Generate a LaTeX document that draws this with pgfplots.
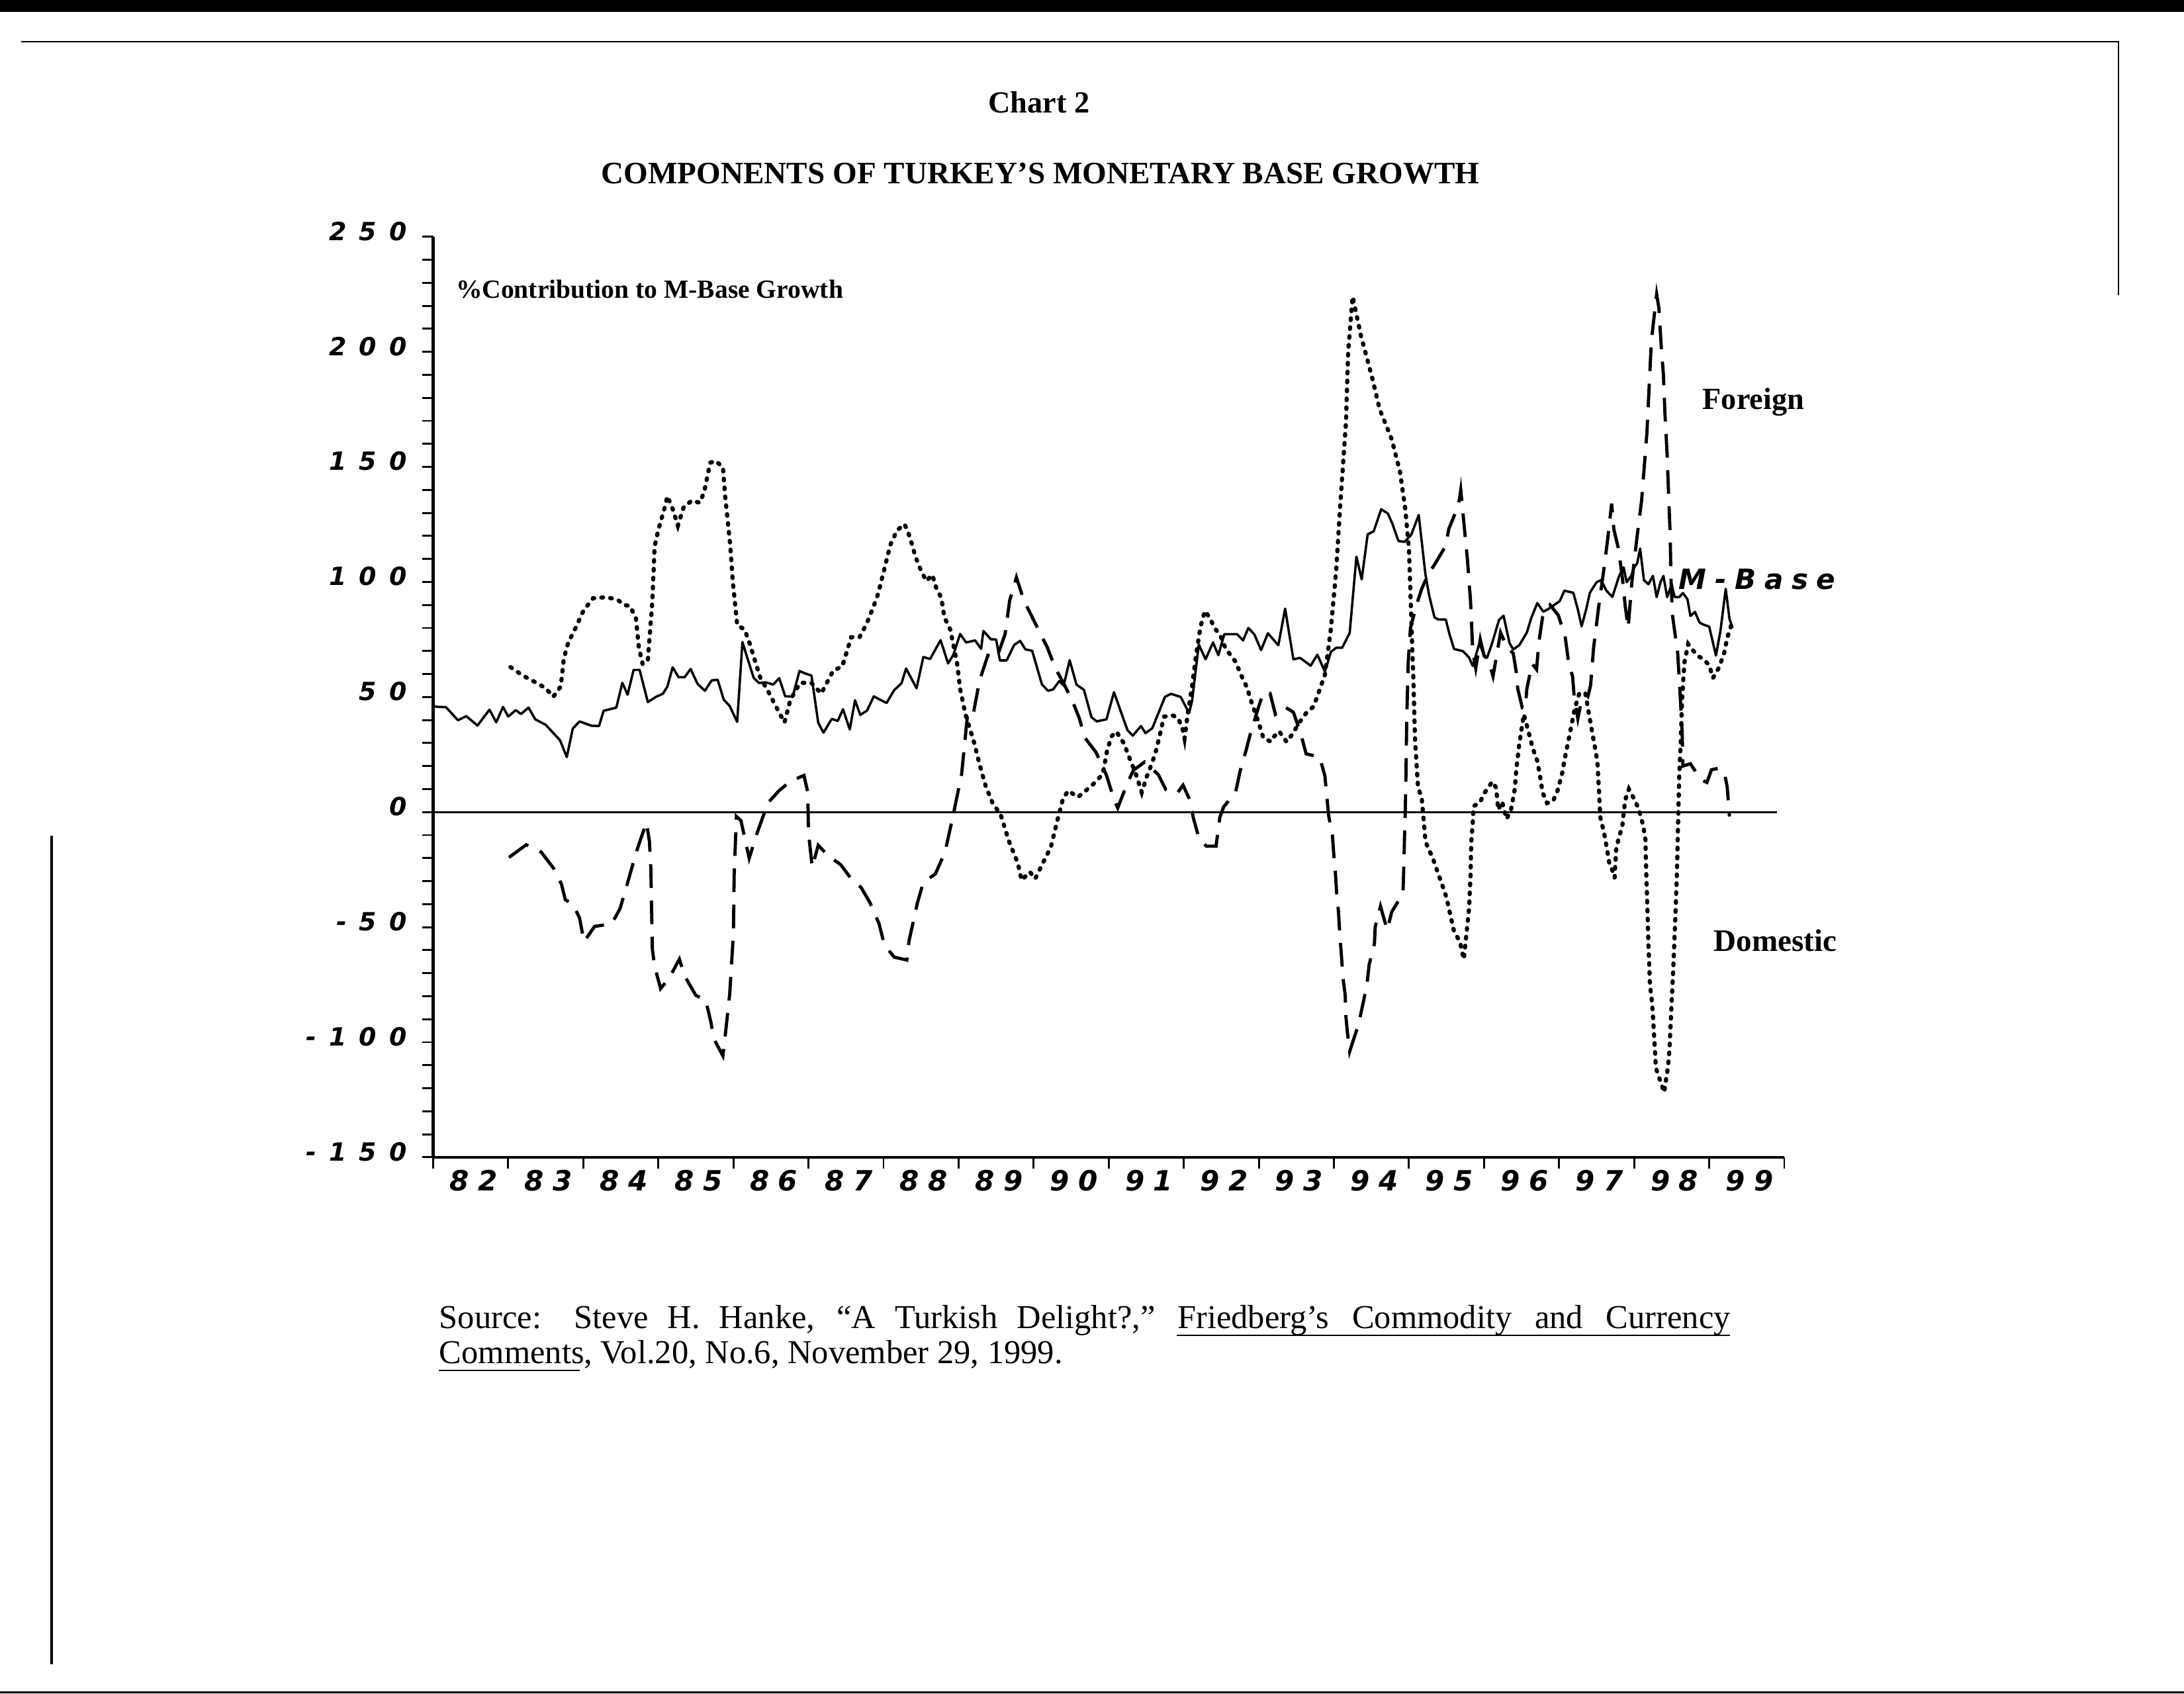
\documentclass[border=0pt]{standalone}
\usepackage{fontspec}
\setmainfont{Liberation Serif}
\newfontfamily\ytickfont[LetterSpace=50]{DejaVu Sans}
\newfontfamily\xtickfont[LetterSpace=32]{DejaVu Sans}
\newfontfamily\mbasefont[LetterSpace=30]{DejaVu Sans}
\usepackage{pgfplots}
\pgfplotsset{compat=1.18}

\begin{document}
\begin{tikzpicture}[x=0.5pt,y=0.5pt]
\path[use as bounding box] (0,0) rectangle (1568,1216);
% edges of the scanned page
\fill[black] (0,1207.5) rectangle (1568,1216);
\fill[black] (0,0) rectangle (1568,1.5);
\draw[line width=0.6pt] (15,1186) -- (1521,1186) -- (1521,1004);
\draw[line width=0.8pt] (37,616) -- (37,21);

\begin{axis}[
    at={(155.5pt,192.5pt)}, anchor=south west,
    scale only axis, width=485pt, height=330.5pt,
    xmin=1982, xmax=2000, ymin=-150, ymax=250,
    axis lines=left,
    axis line style={-, line width=1pt},
    tick align=outside,
    major tick length=4pt, minor tick length=4pt,
    every tick/.style={black, line width=0.7pt},
    ytick={-150,-100,...,250},
    minor ytick={-140,-130,...,240},
    yticklabels={-150,-100,-50,0,50,100,150,200,250},
    yticklabel style={font=\ytickfont\bfseries\itshape\fontsize{9}{9}\selectfont, yshift=2pt, xshift=-2pt},
    xtick={1982.5,1983.5,...,1999.5},
    xticklabels={82,83,84,85,86,87,88,89,90,91,92,93,94,95,96,97,98,99},
    major x tick style={draw=none},
    minor xtick={1982,1983,...,2000},
    xticklabel style={font=\xtickfont\bfseries\itshape\fontsize{10}{10}\selectfont, yshift=3pt, xshift=1pt},
    clip=false,
]
% zero line
\addplot[black, line width=0.8pt] coordinates {(1982,0) (1999.9,0)};

% M-Base (solid)
\addplot[black, line width=0.85pt, line join=round] coordinates {
(1982.00,46) (1982.07,45.7) (1982.17,45.6) (1982.33,39.9) (1982.44,41.7) (1982.59,37.6)
(1982.75,44.5) (1982.84,39.0) (1982.93,45.7) (1983.00,41.5) (1983.10,44.3) (1983.17,42.6)
(1983.27,45.4) (1983.36,40.3) (1983.50,37.9) (1983.69,31.2) (1983.78,23.9) (1983.86,36.3)
(1983.95,39.4) (1984.11,37.5) (1984.21,37.4) (1984.27,44.0) (1984.44,45.4) (1984.52,56.2)
(1984.59,51.0) (1984.67,61.8) (1984.75,61.8) (1984.86,47.8) (1984.97,50.1) (1985.06,51.4)
(1985.12,54.5) (1985.19,62.9) (1985.27,58.6) (1985.35,58.6) (1985.43,62.2) (1985.52,55.8)
(1985.62,52.7) (1985.71,57.2) (1985.79,57.5) (1985.87,48.9) (1985.95,46.1) (1986.05,39.2)
(1986.12,73.9) (1986.19,66.5) (1986.27,58.3) (1986.34,56.1) (1986.43,56.4) (1986.53,55.4)
(1986.61,58.2) (1986.69,50.3) (1986.79,50.2) (1986.88,61.3) (1986.96,60.2) (1987.04,59.3)
(1987.13,38.8) (1987.20,34.5) (1987.31,40.5) (1987.39,39.6) (1987.46,44.7) (1987.55,35.9)
(1987.62,48.6) (1987.69,42.2) (1987.78,44.1) (1987.87,50.3) (1987.95,48.9) (1988.04,47.4)
(1988.14,52.9) (1988.24,56.0) (1988.30,62.4) (1988.44,53.8) (1988.53,67.4) (1988.62,66.5)
(1988.76,74.7) (1988.86,64.6) (1988.93,68.3) (1989.02,77.4) (1989.10,73.7) (1989.22,74.6)
(1989.30,70.9) (1989.33,78.7) (1989.43,75.1) (1989.50,75.0) (1989.55,65.9) (1989.64,65.9)
(1989.74,72.6) (1989.82,74.4) (1989.89,70.7) (1989.98,70.1) (1990.11,55.5) (1990.19,52.7)
(1990.26,53.3) (1990.34,56.9) (1990.40,55.0) (1990.48,66.0) (1990.57,55.4) (1990.67,53.1)
(1990.77,41.2) (1990.84,39.4) (1990.97,40.3) (1991.07,52.1) (1991.17,42.9) (1991.25,35.6)
(1991.32,33.2) (1991.43,37.4) (1991.49,34.3) (1991.58,36.4) (1991.75,50.1) (1991.83,51.4)
(1991.96,50.0) (1992.07,43.0) (1992.11,48.2) (1992.20,72.8) (1992.29,66.4) (1992.39,73.7)
(1992.46,68.2) (1992.54,77.3) (1992.71,77.3) (1992.79,74.6) (1992.86,80.0) (1992.94,77.2)
(1993.03,70.4) (1993.12,77.7) (1993.26,72.5) (1993.35,88.4) (1993.46,66.4) (1993.55,67.0)
(1993.69,63.6) (1993.78,68.4) (1993.88,61.0) (1993.96,69.6) (1994.03,71.4) (1994.11,71.4)
(1994.21,77.8) (1994.30,111) (1994.37,101.1) (1994.45,120.7) (1994.53,122) (1994.63,131.6)
(1994.72,129.7) (1994.78,125.2) (1994.86,117.8) (1994.94,117.4) (1995.03,120.5) (1995.13,129.1)
(1995.22,103.1) (1995.27,94) (1995.34,84.6) (1995.39,83.7) (1995.49,83.7) (1995.54,77.3)
(1995.60,70.9) (1995.72,69.9) (1995.80,67.2) (1995.85,63.5) (1995.94,73.5) (1996.00,68)
(1996.04,67.1) (1996.10,72.6) (1996.20,83.5) (1996.26,85.3) (1996.34,73.4) (1996.39,70.7)
(1996.47,72.5) (1996.57,78) (1996.63,84.4) (1996.71,90.8) (1996.79,87.1) (1996.85,88.1)
(1996.93,89.9) (1997.01,91.7) (1997.07,96.2) (1997.19,95.3) (1997.25,88) (1997.30,80.7)
(1997.36,88) (1997.41,95.3) (1997.50,99.9) (1997.56,100.8) (1997.63,96.2) (1997.71,93.5)
(1997.80,102.6) (1997.86,106.3) (1997.90,99.9) (1997.96,102.6) (1998.00,106.3) (1998.04,108.1)
(1998.08,114.5) (1998.13,100.8) (1998.19,99) (1998.25,102.6) (1998.30,93.4) (1998.35,99.8)
(1998.39,102.6) (1998.44,93.4) (1998.50,98.9) (1998.54,93.4) (1998.60,93.4) (1998.65,95.2)
(1998.71,92.5) (1998.75,85.2) (1998.81,87) (1998.87,82.4) (1998.92,81.5) (1999.00,80.6)
(1999.09,68) (1999.15,78.8) (1999.22,97) (1999.27,84) (1999.31,80)
};

% Domestic (dotted)
\addplot[black, line width=1.5pt, line cap=round, dash pattern=on 0.6pt off 2.6pt] coordinates {
(1983.03,63) (1983.19,59.4) (1983.35,56.6) (1983.50,53.8) (1983.60,50.1) (1983.70,54.6)
(1983.74,66.5) (1983.80,73.8) (1983.90,80.2) (1984.00,87.4) (1984.13,92.9) (1984.31,93.4)
(1984.46,92.2) (1984.54,90.0) (1984.62,89.6) (1984.70,84.4) (1984.74,71.6) (1984.79,64.3)
(1984.86,66.1) (1984.92,91.7) (1984.95,115.5) (1985.00,122.7) (1985.08,131.8) (1985.12,137.3)
(1985.19,131.8) (1985.26,124.5) (1985.34,132.7) (1985.45,135.4) (1985.55,134.4) (1985.61,139)
(1985.69,151.8) (1985.76,152.6) (1985.86,149.9) (1985.89,137.1) (1985.92,127.9) (1985.96,115.1)
(1985.99,100.5) (1986.02,91.3) (1986.05,81.2) (1986.15,79.3) (1986.22,72.9) (1986.29,65.5)
(1986.36,58.2) (1986.46,52.7) (1986.56,46.3) (1986.68,38.9) (1986.76,48.9) (1986.89,56.2)
(1987.04,56.1) (1987.17,51.5) (1987.33,61.5) (1987.45,63.3) (1987.57,76) (1987.68,76)
(1987.77,81.5) (1987.87,89.6) (1987.93,95.1) (1988.02,106.9) (1988.09,116.1) (1988.18,122.4)
(1988.28,125.1) (1988.35,119.6) (1988.43,110.5) (1988.50,104.9) (1988.57,100.4) (1988.65,103.1)
(1988.70,97.6) (1988.77,93) (1988.81,84.7) (1988.89,79.2) (1988.98,64.6) (1989.02,53.6)
(1989.09,42.6) (1989.21,29.8) (1989.28,20.6) (1989.36,11.4) (1989.45,4.1) (1989.56,-1.1)
(1989.67,-12.6) (1989.79,-22.3) (1989.84,-29.6) (1989.95,-26) (1990.02,-29) (1990.10,-23.6)
(1990.23,-15.1) (1990.32,-3.1) (1990.39,5.7) (1990.46,9.3) (1990.59,6.5) (1990.69,9.2)
(1990.79,12) (1990.92,16.5) (1990.98,27) (1991.04,33) (1991.10,35) (1991.20,30)
(1991.30,21.5) (1991.36,16.7) (1991.44,8.6) (1991.51,15.7) (1991.58,21.5) (1991.63,26.7)
(1991.67,32) (1991.71,37.7) (1991.74,41.5) (1991.85,42) (1991.92,41) (1991.98,36.7)
(1992.01,32) (1992.05,42) (1992.11,54.6) (1992.16,67.3) (1992.22,80.1) (1992.28,87.4)
(1992.34,84.7) (1992.41,80.1) (1992.49,76.4) (1992.56,70.9) (1992.69,65.3) (1992.76,59.8)
(1992.84,54.3) (1992.91,46.9) (1992.99,39.6) (1993.06,32.2) (1993.16,30.6) (1993.19,32.4)
(1993.27,35.1) (1993.37,30.5) (1993.45,34) (1993.53,38.5) (1993.63,43) (1993.73,45.9)
(1993.88,59.6) (1993.96,79.7) (1994.03,105) (1994.09,136) (1994.16,169) (1994.19,200)
(1994.25,224) (1994.36,207) (1994.50,190) (1994.61,175) (1994.77,162) (1994.88,148)
(1994.95,132) (1995.00,114) (1995.02,95) (1995.04,75) (1995.06,57) (1995.08,32)
(1995.12,11) (1995.17,6) (1995.20,-5) (1995.22,-12.8) (1995.25,-15.2) (1995.32,-20.2)
(1995.37,-25) (1995.45,-32.3) (1995.50,-37.2) (1995.55,-44.5) (1995.60,-51.7) (1995.68,-56.5)
(1995.73,-64) (1995.77,-51.7) (1995.80,-42) (1995.82,-28) (1995.83,-13.1) (1995.85,-4.6)
(1995.86,2.6) (1995.94,3.9) (1996.01,8.5) (1996.11,13.2) (1996.16,10.7) (1996.19,1)
(1996.24,4.6) (1996.30,-3) (1996.36,1) (1996.41,10) (1996.43,18.6) (1996.47,29.6)
(1996.53,42.5) (1996.59,35.2) (1996.65,27.7) (1996.71,22.2) (1996.75,14.9) (1996.78,8.5)
(1996.84,3.9) (1996.92,4.8) (1996.98,9.4) (1997.04,16.7) (1997.08,24) (1997.12,30.4)
(1997.16,36.8) (1997.21,45.2) (1997.27,51.7) (1997.35,51.6) (1997.39,44.2) (1997.43,36.7)
(1997.47,29.4) (1997.51,22.1) (1997.53,10.2) (1997.55,-2.4) (1997.60,-9.1) (1997.64,-16.4)
(1997.67,-22.4) (1997.72,-26.1) (1997.74,-28.5) (1997.76,-16.4) (1997.80,-10.4) (1997.84,-6.8)
(1997.86,-0.8) (1997.88,5.2) (1997.93,10) (1997.99,6.3) (1998.06,1.5) (1998.12,-5.8)
(1998.15,-11.9) (1998.16,-25) (1998.18,-45) (1998.19,-57.8) (1998.20,-65.1) (1998.21,-74.8)
(1998.24,-83.2) (1998.26,-94) (1998.28,-105.1) (1998.29,-111.2) (1998.34,-116.1) (1998.40,-121.8)
(1998.45,-110.9) (1998.47,-103.7) (1998.49,-89.2) (1998.52,-69) (1998.55,-45) (1998.57,-26.4)
(1998.58,-12.4) (1998.59,0.9) (1998.60,14.8) (1998.62,30) (1998.64,50) (1998.67,65)
(1998.72,73) (1998.79,70) (1998.86,67.6) (1998.92,66.6) (1999.00,63.8) (1999.05,58.3)
(1999.13,62.8) (1999.20,69.2) (1999.24,75.6) (1999.30,82)
};

% Foreign (dashed)
\addplot[black, line width=1.15pt, dash pattern=on 8.5pt off 4.5pt] coordinates {
(1983.01,-19.7) (1983.24,-14.2) (1983.44,-17.4) (1983.61,-24.7) (1983.71,-31.4) (1983.76,-38.1)
(1983.86,-39.9) (1983.95,-46) (1984.01,-56.3) (1984.15,-49.7) (1984.38,-48.5) (1984.49,-41.9)
(1984.57,-33) (1984.64,-25) (1984.72,-16) (1984.84,-4.5) (1984.88,-12.4) (1984.90,-24.5)
(1984.91,-42.7) (1984.92,-59.6) (1984.95,-66.9) (1985.03,-76.7) (1985.15,-71.8) (1985.28,-63.9)
(1985.35,-71.2) (1985.50,-79.7) (1985.63,-81.6) (1985.70,-91.3) (1985.74,-98.6) (1985.86,-105.9)
(1985.89,-97.4) (1985.95,-79.3) (1986.00,-52.7) (1986.01,-27.3) (1986.04,-1.9) (1986.10,-3.7)
(1986.17,-14.1) (1986.21,-20.1) (1986.30,-10.5) (1986.46,4.0) (1986.61,9.4) (1986.77,13.6)
(1986.94,15.9) (1986.99,8.7) (1987.00,-8.9) (1987.05,-24.0) (1987.13,-14.4) (1987.25,-18.6)
(1987.43,-22.9) (1987.57,-29.0) (1987.70,-32.7) (1987.82,-39.4) (1987.94,-48.5) (1988.01,-57.6)
(1988.14,-63.0) (1988.31,-64.3) (1988.34,-55.9) (1988.45,-39.6) (1988.53,-30.5) (1988.69,-26.9)
(1988.82,-17.3) (1988.93,-1.0) (1989.04,16.4) (1989.12,42.7) (1989.19,41.8) (1989.28,57.2)
(1989.39,68.1) (1989.51,67.2) (1989.62,77.4) (1989.68,91.9) (1989.77,102) (1989.87,91.9)
(1989.97,85.4) (1990.08,78.1) (1990.18,71.7) (1990.29,62.5) (1990.41,55.2) (1990.51,48.8)
(1990.61,40.6) (1990.68,32.4) (1990.83,26.0) (1990.97,16.0) (1991.07,5.5) (1991.12,1.8)
(1991.25,12.7) (1991.33,18.2) (1991.48,21.8) (1991.66,16.3) (1991.76,9.8) (1991.91,8.1)
(1991.99,11.7) (1992.08,5.3) (1992.13,-2.9) (1992.20,-11.1) (1992.30,-14.8) (1992.43,-14.8)
(1992.48,-2.3) (1992.53,2.2) (1992.69,8.6) (1992.75,17.7) (1992.83,26.8) (1992.88,33.2)
(1992.99,45) (1993.06,52) (1993.15,51.6) (1993.22,42.5) (1993.34,45.8) (1993.46,43.4)
(1993.56,33.9) (1993.63,25.3) (1993.81,23.9) (1993.88,15.7) (1993.93,-1.6) (1993.98,-10)
(1994.00,-19.2) (1994.02,-26.5) (1994.04,-36.8) (1994.06,-42.9) (1994.08,-53.8) (1994.10,-62.3)
(1994.12,-72) (1994.15,-79.3) (1994.16,-89) (1994.18,-95.7) (1994.21,-104) (1994.25,-100)
(1994.33,-92.1) (1994.38,-84.3) (1994.44,-75.2) (1994.47,-66.2) (1994.54,-57.2) (1994.55,-50)
(1994.62,-40.9) (1994.71,-51.2) (1994.77,-43.4) (1994.92,-35.4) (1994.93,-25.1) (1994.94,-11.8)
(1994.95,-1) (1994.96,16) (1994.97,40) (1994.99,65) (1995.02,80) (1995.10,90)
(1995.17,97) (1995.25,103) (1995.34,107.5) (1995.49,115.7) (1995.53,123) (1995.66,133.3)
(1995.69,140) (1995.75,119.4) (1995.78,109.3) (1995.82,91.8) (1995.85,69.9) (1995.89,62.5)
(1995.95,75) (1996.00,68) (1996.06,66) (1996.12,59) (1996.22,78) (1996.30,72)
(1996.39,68.9) (1996.43,60.7) (1996.45,53.5) (1996.51,45.3) (1996.55,45) (1996.57,53.5)
(1996.64,64.5) (1996.70,62) (1996.73,73.7) (1996.78,84.7) (1996.88,90) (1996.99,85.5)
(1997.08,76.4) (1997.13,64.4) (1997.18,58.9) (1997.20,50.6) (1997.25,40.6) (1997.30,48.8)
(1997.38,49.7) (1997.42,55.1) (1997.46,71.5) (1997.53,89.8) (1997.60,106.3) (1997.65,119.3)
(1997.70,134) (1997.73,122.8) (1997.79,114.6) (1997.84,102.7) (1997.88,89.9) (1997.92,80)
(1997.97,100) (1998.03,117.3) (1998.10,135.6) (1998.17,164.8) (1998.23,205) (1998.30,225)
(1998.33,219) (1998.36,202.8) (1998.39,190) (1998.41,173.5) (1998.44,155) (1998.46,137)
(1998.48,120.5) (1998.49,102) (1998.51,85.6) (1998.58,69.1) (1998.61,52.7) (1998.64,34.4)
(1998.65,20) (1998.75,21) (1998.85,16) (1998.91,13.8) (1998.97,12.9) (1999.03,18.4)
(1999.12,19) (1999.20,17.4) (1999.24,10.9) (1999.27,-1.9)
};
\end{axis}

% texts
\node[anchor=base, inner sep=0pt, font=\bfseries\fontsize{11}{11}\selectfont] at (746,1135) {Chart 2};
\node[anchor=base, inner sep=0pt, font=\bfseries\fontsize{11.2}{11.2}\selectfont] at (747,1084) {COMPONENTS OF TURKEY’S MONETARY BASE GROWTH};
\node[anchor=base west, inner sep=0pt, font=\bfseries\fontsize{9.4}{9.4}\selectfont] at (327,1002) {\%Contribution to M-Base Growth};
\node[anchor=base west, inner sep=0pt, font=\bfseries\fontsize{11}{11}\selectfont] at (1222,922) {Foreign};
\node[anchor=base west, inner sep=0pt, font=\mbasefont\bfseries\itshape\fontsize{10}{10}\selectfont] at (1205,793) {M-Base};
\node[anchor=base west, inner sep=0pt, font=\bfseries\fontsize{11.2}{11.2}\selectfont] at (1230,533) {Domestic};
% source
\node[anchor=base west, inner sep=0pt, font=\fontsize{12}{12}\selectfont] at (315,262)
  {\makebox[257pt][s]{Source: Steve H. Hanke, “A Turkish Delight?,”}};
\node[anchor=base west, inner sep=0pt, font=\fontsize{12}{12}\selectfont] at (845,262)
  {\makebox[198.5pt][s]{Friedberg’s Commodity and Currency}};
\draw[line width=0.5pt] (845,257) -- (1242,257);
\node[anchor=base west, inner sep=0pt, font=\fontsize{12}{12}\selectfont] at (315,237)
  {Comments, Vol.20, No.6, November 29, 1999.};
\draw[line width=0.5pt] (315,232) -- (416,232);
\end{tikzpicture}
\end{document}
